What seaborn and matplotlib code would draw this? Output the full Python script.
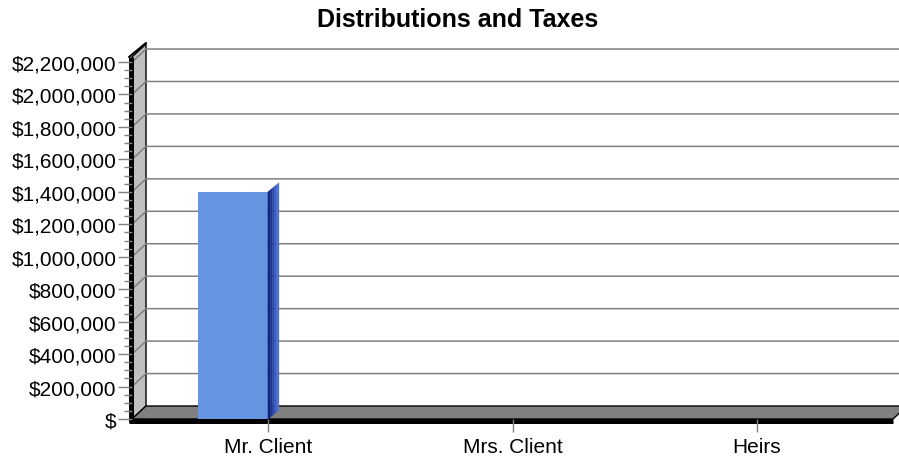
import matplotlib
matplotlib.use("Agg")
import matplotlib.pyplot as plt
import matplotlib.transforms as mtrans
from matplotlib.patches import Polygon
from matplotlib.ticker import MultipleLocator, FuncFormatter
import pandas as pd
import seaborn as sns

# === andmed ===
kategooriad = ["Mr. Client", "Mrs. Client", "Heirs"]
seeriad = ["Distributions", "Taxes"]
distributions = [1400000, 0, 0]
taxes = [0, 0, 0]

df = pd.DataFrame({
    "kategooria": kategooriad * 2,
    "seeria": [seeriad[0]] * 3 + [seeriad[1]] * 3,
    "vaartus": distributions + taxes,
})

sns.set_style("white")
plt.rcParams["font.family"] = ["Liberation Sans", "DejaVu Sans"]
plt.rcParams["text.color"] = "black"
plt.rcParams["xtick.labelcolor"] = "black"
plt.rcParams["ytick.labelcolor"] = "black"

W, H = 899, 464
fig = plt.figure(figsize=(W / 100, H / 100), dpi=100)

# esitasand (front plane) pikslites
x0, x2 = 132, 893
yb, yt = 420, 58
ax = fig.add_axes([x0 / W, (H - yb) / H, (x2 - x0) / W, (yb - yt) / H])
ax.patch.set_alpha(0)
ax.set_zorder(1)

sns.barplot(data=df, x="kategooria", y="vaartus", hue="seeria",
            palette=["#6594E1", "#993366"], width=0.57, dodge=True,
            saturation=1, legend=False, linewidth=0, ax=ax, zorder=5)

ax.set_xlim(-0.556, 2.556)
ax.set_ylim(0, 2231000)
ax.yaxis.set_major_locator(MultipleLocator(200000))
ax.yaxis.set_minor_locator(MultipleLocator(50000))
ax.yaxis.set_major_formatter(FuncFormatter(lambda v, p: "$" if v == 0 else f"${v:,.0f}"))
for s in ax.spines.values():
    s.set_visible(False)
ax.set_xlabel("")
ax.set_ylabel("")
ax.tick_params(axis="y", which="major", direction="out", length=10, width=1,
               color="#808080", pad=1, labelsize=15, labelcolor="black", left=True)
ax.tick_params(axis="y", which="minor", direction="out", length=6, width=1,
               color="#808080", left=True)
ax.tick_params(axis="x", direction="out", length=9, width=1, color="#808080",
               pad=4, labelsize=15, labelcolor="black", bottom=True)
fig.text(458 / W, 1 - 20 / H, "Distributions and Taxes", fontsize=18,
         fontweight="bold", ha="center", va="center", color="black")

# 3D kujundus
DX, DY = 14, 13
fig.canvas.draw()
td = ax.transData
ident = mtrans.IdentityTransform()

def disp(x, y):
    return td.transform((x, y))

xl, xr = ax.get_xlim()
ymax = ax.get_ylim()[1]
fx0, fy0 = disp(xl, 0)
fx2, _ = disp(xr, 0)
_, fy1 = disp(xl, ymax)

def poly(pts, **kw):
    p = Polygon(pts, closed=True, transform=ident, clip_on=False, **kw)
    fig.patches.append(p)
    p.set_figure(fig)
    return p

# külgsein
poly([(fx0, fy0), (fx0, fy1), (fx0 + DX, fy1 + DY), (fx0 + DX, fy0 + DY)],
     facecolor="#c0c0c0", edgecolor="black", linewidth=1, zorder=0.5)
# põrand
poly([(fx0, fy0), (fx2, fy0), (fx2 + DX, fy0 + DY), (fx0 + DX, fy0 + DY)],
     facecolor="#808080", edgecolor="black", linewidth=1, zorder=0.6)

# ruudustik tagaseinal ja külgseinal
for v in range(200000, 2200001, 200000):
    gx, gy = disp(xl, v)
    fig.add_artist(plt.Line2D([gx, gx + DX, W + 5], [gy, gy + DY, gy + DY],
                              transform=ident, color="#808080", linewidth=1.1, zorder=0.55))

# paksud mustad servad
fig.add_artist(plt.Line2D([fx0 - 1.5, fx0 - 1.5], [fy0 - 3, fy1], transform=ident,
                          color="black", linewidth=3.6, solid_capstyle="butt", zorder=0.9))
fig.add_artist(plt.Line2D([fx0 - 3, fx2], [fy0 - 1.5, fy0 - 1.5], transform=ident,
                          color="black", linewidth=3.6, solid_capstyle="butt", zorder=0.9))
fig.add_artist(plt.Line2D([fx0 - 3, fx0 + DX], [fy1, fy1 + DY + 1], transform=ident,
                          color="black", linewidth=1.5, zorder=0.9))

# tulpade külgpinnad
BDX, BDY = 11, 9
varvid = ["#14237a", "#1f3591", "#2b47a8", "#3a5bc0", "#4d71d4"]
for bar in ax.patches:
    if bar.get_height() <= 0:
        continue
    rx, by = disp(bar.get_x() + bar.get_width(), 0)
    _, ty = disp(bar.get_x(), bar.get_height())
    n = len(varvid)
    for i, c in enumerate(varvid):
        a, b = i / n, (i + 1) / n
        poly([(rx + a * BDX, by + a * BDY), (rx + a * BDX, ty + a * BDY),
              (rx + b * BDX, ty + b * BDY), (rx + b * BDX, by + b * BDY)],
             facecolor=c, edgecolor=c, linewidth=0.3, zorder=4)

fig.savefig("out.png", dpi=100)
